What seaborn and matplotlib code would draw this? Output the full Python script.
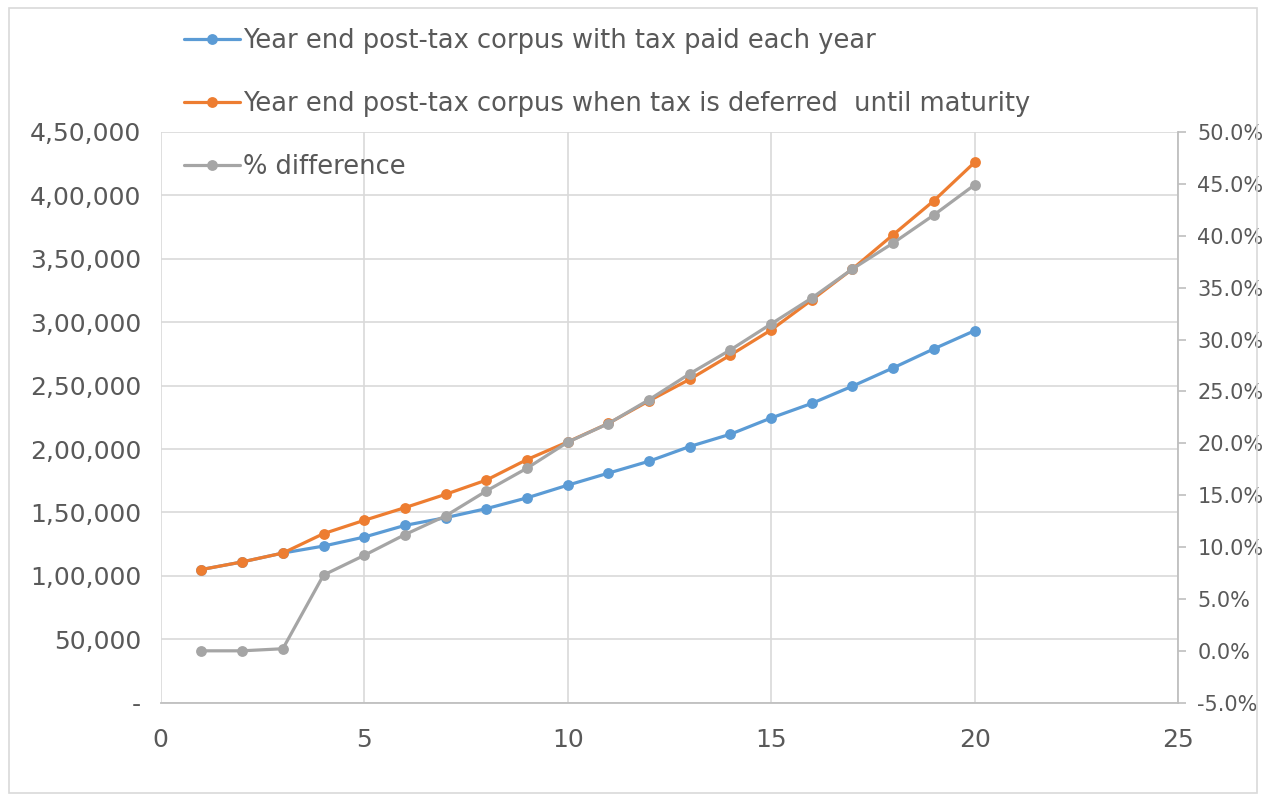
import matplotlib
matplotlib.use("Agg")
import matplotlib.pyplot as plt
import seaborn as sns
import pandas as pd
from matplotlib.ticker import FuncFormatter, MultipleLocator
from matplotlib.patches import Rectangle

# ---- data ----
years = list(range(1, 21))
corpus_tax_each_year = [105000, 111000, 118000, 123500, 130600, 139800, 145900, 153000, 161500, 171500,
                        181000, 190400, 202000, 211700, 224500, 236000, 249600, 264000, 279000, 293300]
corpus_tax_deferred = [105000, 111000, 118000, 133300, 143800, 153800, 164300, 175500, 191700, 205600,
                       220200, 238000, 255000, 274100, 293900, 317600, 342000, 369000, 395800, 426000]
pct_difference = [0.0, 0.0, 0.2, 7.3, 9.2, 11.2, 13.0, 15.4, 17.6, 20.1,
                  21.9, 24.2, 26.7, 29.0, 31.5, 34.0, 36.8, 39.3, 42.0, 44.9]
labels = ["Year end post-tax corpus with tax paid each year",
          "Year end post-tax corpus when tax is deferred  until maturity",
          "% difference"]
colors = ["#5B9BD5", "#ED7D31", "#A5A5A5"]

df = pd.DataFrame({"year": years, "a": corpus_tax_each_year, "b": corpus_tax_deferred, "c": pct_difference})

sns.set_theme(style="white")
plt.rcParams["font.family"] = ["DejaVu Sans"]

fig = plt.figure(figsize=(12.66, 7.95), dpi=100)
ax = fig.add_axes([0.127, 0.1161, 0.8035, 0.7179])
ax2 = ax.twinx()

lw = 2.3
ms = 7.8
sns.lineplot(data=df, x="year", y="a", ax=ax, color=colors[0], lw=lw, marker="o", markersize=ms,
             markeredgewidth=0, label=labels[0], legend=False)
sns.lineplot(data=df, x="year", y="b", ax=ax, color=colors[1], lw=lw, marker="o", markersize=ms,
             markeredgewidth=0, label=labels[1], legend=False)
sns.lineplot(data=df, x="year", y="c", ax=ax2, color=colors[2], lw=lw, marker="o", markersize=ms,
             markeredgewidth=0, label=labels[2], legend=False)

tick_color = "#595959"
fs = 18
lfs = 18.5

# left axis
ax.set_xlim(0, 25)
ax.set_ylim(0, 450000)
ax.xaxis.set_major_locator(MultipleLocator(5))
ax.yaxis.set_major_locator(MultipleLocator(50000))

def indian(v, pos):
    v = int(round(v))
    if v == 0:
        return "-"
    s = str(v)
    last3 = s[-3:]
    rest = s[:-3]
    parts = []
    while len(rest) > 2:
        parts.insert(0, rest[-2:])
        rest = rest[:-2]
    if rest:
        parts.insert(0, rest)
    return ",".join(parts + [last3])

ax.yaxis.set_major_formatter(FuncFormatter(indian))
ax.grid(True, color="#d9d9d9", lw=1.2)
ax.set_axisbelow(True)
ax.tick_params(axis="both", length=0, labelsize=fs, labelcolor=tick_color, pad=14)
ax.tick_params(axis="x", pad=18)
for s in ["left", "top", "right"]:
    ax.spines[s].set_visible(False)
ax.spines["bottom"].set_color("#bfbfbf")
ax.spines["bottom"].set_linewidth(1.3)
ax.set_xlabel("")
ax.set_ylabel("")

# right axis
ax2.set_ylim(-5, 50)
ax2.yaxis.set_major_locator(MultipleLocator(5))
ax2.yaxis.set_major_formatter(FuncFormatter(lambda v, p: f"{v:.1f}%"))
ax2.tick_params(axis="y", length=6, width=1.2, color="#bfbfbf", labelsize=15, labelcolor=tick_color, pad=8)
for s in ["left", "top", "bottom"]:
    ax2.spines[s].set_visible(False)
ax2.spines["right"].set_color("#bfbfbf")
ax2.spines["right"].set_linewidth(1.3)
ax2.grid(False)
ax2.set_ylabel("")

# legend
h1, l1 = ax.get_legend_handles_labels()
h2, l2 = ax2.get_legend_handles_labels()
fig.legend(h1 + h2, l1 + l2, loc="upper left", bbox_to_anchor=(0.1375, 0.978), frameon=False,
           fontsize=lfs, labelcolor=tick_color, labelspacing=1.45, handlelength=2.15,
           handletextpad=0.12, borderaxespad=0)

# figure border
fig.patches.append(Rectangle((0.007, 0.003), 0.986, 0.987, transform=fig.transFigure,
                             fill=False, edgecolor="#d9d9d9", lw=1.2))

fig.savefig("out.png", dpi=100)
